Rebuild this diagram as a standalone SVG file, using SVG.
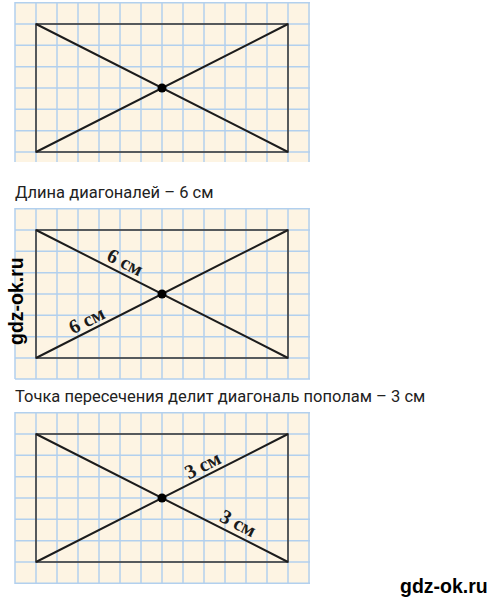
<svg xmlns="http://www.w3.org/2000/svg" width="497" height="600" viewBox="0 0 497 600">
<defs>
<style>
.bg{fill:#fdf4e3}
.gl{stroke:#b2d0ee;stroke-width:1.5;fill:none}
.rc{fill:none;stroke:#3a3a3a;stroke-width:1.6}
.dg{stroke:#1c1c1c;stroke-width:2;fill:none}
.dot{fill:#000}
.cap{font-family:Roboto,"Liberation Sans",sans-serif;font-size:16.5px;fill:#222}
.lbl{font-family:"Liberation Serif",serif;font-size:20px;font-weight:bold;fill:#1a1a1a}
.wm{font-family:"Liberation Sans",Arial,sans-serif;font-size:19.5px;font-weight:bold;fill:#000}
</style>
</defs>
<rect width="497" height="600" fill="#fff"/>

<g id="panel1">
<rect class="bg" x="15" y="2" width="295" height="160"/>
<path class="gl" d="M15 2V162M36 2V162M57 2V162M78 2V162M99 2V162M120 2V162M141 2V162M162 2V162M183 2V162M204 2V162M225 2V162M246 2V162M267 2V162M288 2V162M309 2V162M15 2.7H310M15 24H310M15 45.3H310M15 66.7H310M15 88H310M15 109.3H310M15 130.7H310M15 152H310"/>
<rect class="rc" x="36" y="24" width="252" height="128"/>
<g class="connectors"><path class="dg" d="M36 24L288 152M36 152L288 24"/></g>
<circle class="dot" cx="162" cy="88" r="4.5"/>
</g>

<text class="cap" x="15" y="198">Длина диагоналей – 6 см</text>

<g id="panel2">
<rect class="bg" x="15" y="208" width="295" height="171"/>
<path class="gl" d="M15 208V379M36 208V379M57 208V379M78 208V379M99 208V379M120 208V379M141 208V379M162 208V379M183 208V379M204 208V379M225 208V379M246 208V379M267 208V379M288 208V379M309 208V379M15 208.7H310M15 230H310M15 251.3H310M15 272.7H310M15 294H310M15 315.3H310M15 336.7H310M15 358H310M15 379H310"/>
<rect class="rc" x="36" y="230" width="252" height="128"/>
<g class="connectors"><path class="dg" d="M36 230L288 358M36 358L288 230"/></g>
<circle class="dot" cx="162" cy="294" r="4.5"/>
<text class="lbl" text-anchor="middle" transform="translate(120 272.7) rotate(26.9)" y="-5">6 см</text>
<text class="lbl" text-anchor="middle" transform="translate(92 330.6) rotate(-26.9)" y="-5">6 см</text>
</g>

<text class="cap" x="15" y="402">Точка пересечения делит диагональ пополам – 3 см</text>

<g id="panel3">
<rect class="bg" x="15" y="412" width="295" height="172"/>
<path class="gl" d="M15 412V584M36 412V584M57 412V584M78 412V584M99 412V584M120 412V584M141 412V584M162 412V584M183 412V584M204 412V584M225 412V584M246 412V584M267 412V584M288 412V584M309 412V584M15 412.7H310M15 434H310M15 455.3H310M15 476.7H310M15 498H310M15 519.3H310M15 540.7H310M15 562H310M15 583.3H310"/>
<rect class="rc" x="36" y="434" width="252" height="128"/>
<g class="connectors"><path class="dg" d="M36 434L288 562M36 562L288 434"/></g>
<circle class="dot" cx="162" cy="498" r="4.5"/>
<text class="lbl" text-anchor="middle" transform="translate(208 475.6) rotate(-26.9)" y="-5">3 см</text>
<text class="lbl" text-anchor="middle" transform="translate(233 533.6) rotate(26.9)" y="-5">3 см</text>
</g>

<text class="wm" transform="translate(23 345) rotate(-90)">gdz-ok.ru</text>
<text class="wm" x="400" y="593">gdz-ok.ru</text>
</svg>
